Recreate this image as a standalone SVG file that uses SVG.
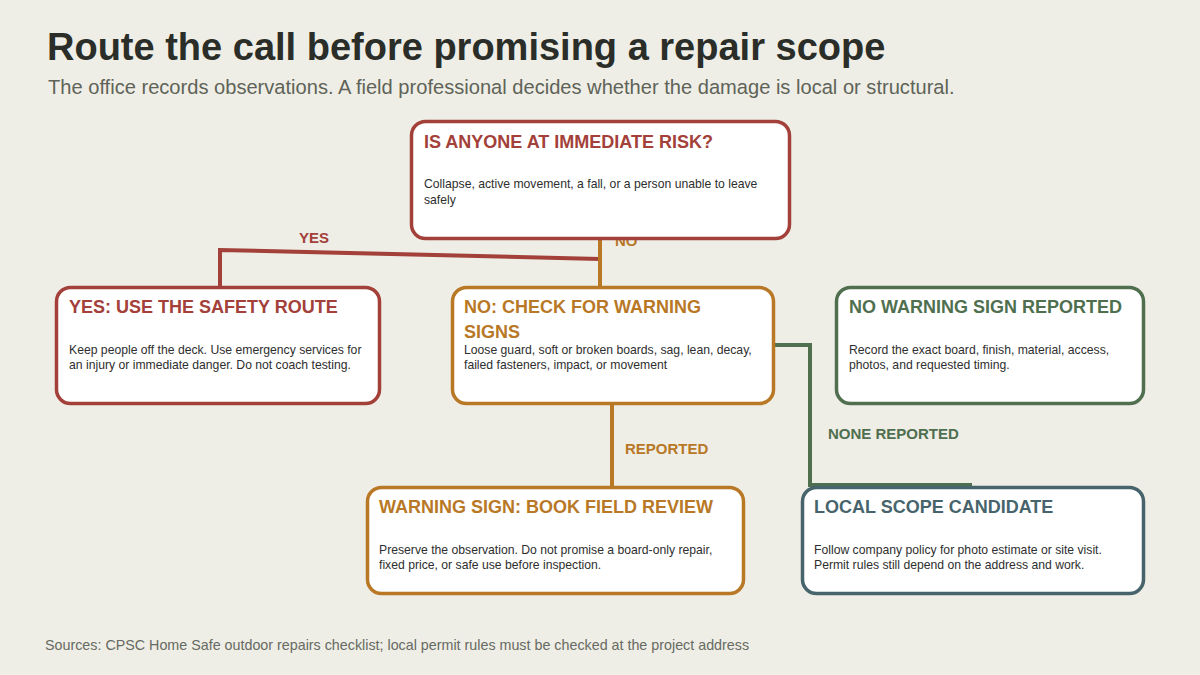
<svg xmlns="http://www.w3.org/2000/svg" width="1200" height="675" viewBox="0 0 1200 675">
<style>
.bg{fill:#eeeee6}
.box{fill:#ffffff;stroke-width:3.5}
.ttl{font-family:"Liberation Sans",Arial,sans-serif;font-weight:bold;font-size:18px}
.body{font-family:"Liberation Sans",Arial,sans-serif;font-size:12.2px;fill:#2e2e2e}
.lbl{font-family:"Liberation Sans",Arial,sans-serif;font-weight:bold;font-size:15px}
.ln{fill:none;stroke-width:4;stroke-linejoin:miter}
.red{stroke:#a3403a}.redt{fill:#a3403a}
.org{stroke:#b87826}.orgt{fill:#b87826}
.grn{stroke:#4f6f4f}.grnt{fill:#4f6f4f}
.sla{stroke:#47646c}.slat{fill:#47646c}
</style>
<rect class="bg" x="0" y="0" width="1200" height="675"/>
<text x="47" y="60" font-family="Liberation Sans, Arial, sans-serif" font-weight="bold" font-size="38" fill="#2a2d28">Route the call before promising a repair scope</text>
<text x="48" y="94" font-family="Liberation Sans, Arial, sans-serif" font-size="20.1" fill="#5f6358">The office records observations. A field professional decides whether the damage is local or structural.</text>

<g id="connectors">
  <polyline class="ln red" points="600,259 220,250 220,287"/>
  <text class="lbl redt" x="314" y="243" text-anchor="middle">YES</text>
  <line class="ln org" x1="600" y1="239" x2="600" y2="287"/>
  <text class="lbl orgt" x="615" y="246">NO</text>
  <line class="ln org" x1="612" y1="404" x2="612" y2="487"/>
  <text class="lbl orgt" x="625" y="454">REPORTED</text>
  <polyline class="ln grn" points="774,345 810,345 810,485 972,485"/>
  <text class="lbl grnt" x="828" y="439">NONE REPORTED</text>
</g>

<g id="node-risk">
  <rect class="box red" x="411.5" y="121.5" width="378" height="117" rx="14"/>
  <text class="ttl redt" x="424" y="148">IS ANYONE AT IMMEDIATE RISK?</text>
  <text class="body" x="424" y="188">Collapse, active movement, a fall, or a person unable to leave</text>
  <text class="body" x="424" y="204">safely</text>
</g>

<g id="node-safety">
  <rect class="box red" x="56.5" y="287.5" width="323" height="116" rx="14"/>
  <text class="ttl redt" x="69" y="313">YES: USE THE SAFETY ROUTE</text>
  <text class="body" x="69" y="354">Keep people off the deck. Use emergency services for</text>
  <text class="body" x="69" y="369">an injury or immediate danger. Do not coach testing.</text>
</g>

<g id="node-check">
  <rect class="box org" x="452.5" y="287.5" width="321" height="116" rx="14"/>
  <text class="ttl orgt" x="464" y="313">NO: CHECK FOR WARNING</text>
  <text class="ttl orgt" x="464" y="338">SIGNS</text>
  <text class="body" x="464" y="354">Loose guard, soft or broken boards, sag, lean, decay,</text>
  <text class="body" x="464" y="369">failed fasteners, impact, or movement</text>
</g>

<g id="node-nowarning">
  <rect class="box grn" x="836.5" y="287.5" width="307" height="116" rx="14"/>
  <text class="ttl grnt" x="849" y="313">NO WARNING SIGN REPORTED</text>
  <text class="body" x="849" y="354">Record the exact board, finish, material, access,</text>
  <text class="body" x="849" y="369">photos, and requested timing.</text>
</g>

<g id="node-fieldreview">
  <rect class="box org" x="367.5" y="487.5" width="376" height="106" rx="14"/>
  <text class="ttl orgt" x="379" y="513">WARNING SIGN: BOOK FIELD REVIEW</text>
  <text class="body" x="379" y="554">Preserve the observation. Do not promise a board-only repair,</text>
  <text class="body" x="379" y="569">fixed price, or safe use before inspection.</text>
</g>

<g id="node-local">
  <rect class="box sla" x="802.5" y="487.5" width="341" height="106" rx="14"/>
  <text class="ttl slat" x="814" y="513">LOCAL SCOPE CANDIDATE</text>
  <text class="body" x="814" y="554">Follow company policy for photo estimate or site visit.</text>
  <text class="body" x="814" y="569">Permit rules still depend on the address and work.</text>
</g>

<text x="45" y="650" font-family="Liberation Sans, Arial, sans-serif" font-size="14.3" fill="#676a62">Sources: CPSC Home Safe outdoor repairs checklist; local permit rules must be checked at the project address</text>
</svg>
